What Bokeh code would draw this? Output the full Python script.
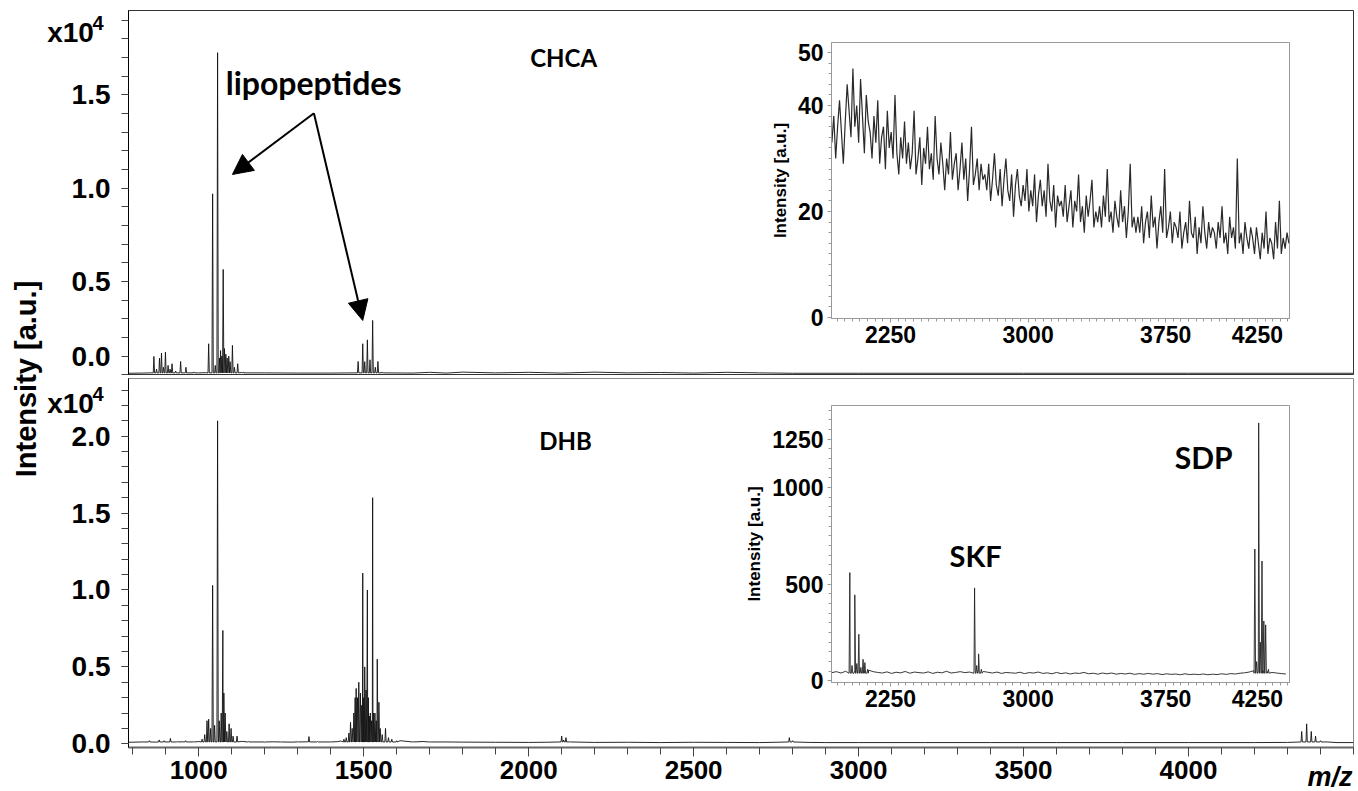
import numpy as np
from bokeh.plotting import figure
from bokeh.models import (Range1d, FixedTicker, NumeralTickFormatter, Label, Arrow,
                          NormalHead, GridBox)
from bokeh.embed import file_html
from bokeh.resources import INLINE

# ---------------- data ----------------
# main panels: m/z axis, intensity in units of 1e4 a.u.
mz_range = (787, 4500)

chca_peak_mz = [864, 872, 881, 887, 893, 899, 907, 913, 919, 930, 945, 961, 985,
                1030, 1042, 1050, 1057, 1063, 1066, 1070, 1074, 1078, 1082, 1086, 1091, 1095,
                1102, 1108, 1118, 1135,
                1483, 1497, 1503, 1511, 1519, 1527, 1535, 1543, 1555]
chca_peak_int = [0.098, 0.03, 0.089, 0.116, 0.04, 0.121, 0.05, 0.03, 0.059, 0.02, 0.071, 0.04, 0.015,
                 0.166, 0.969, 0.05, 1.725, 0.09, 0.13, 0.10, 0.564, 0.14, 0.11, 0.09, 0.10, 0.07,
                 0.157, 0.04, 0.059, 0.015,
                 0.071, 0.166, 0.07, 0.187, 0.08, 0.291, 0.04, 0.071, 0.015]
chca_base_mz = [787, 830, 850, 960, 1000, 1020, 1130, 1200, 1300, 1400,
                1470, 1560, 1650, 1700, 1750, 1800, 1900, 2000, 2100, 2200,
                2300, 2400, 2500, 2600, 2700, 2800, 3000, 3500, 4000, 4500]
chca_base_int = [0.008, 0.009, 0.010, 0.012, 0.010, 0.011, 0.012, 0.010, 0.009, 0.009,
                 0.010, 0.010, 0.009, 0.013, 0.009, 0.014, 0.010, 0.013, 0.009, 0.014,
                 0.010, 0.012, 0.009, 0.013, 0.010, 0.008, 0.008, 0.008, 0.008, 0.008]

dhb_peak_mz = [850, 880, 895, 914, 935, 960, 985,
               1010, 1018, 1025, 1030, 1036, 1042, 1048, 1057, 1062, 1068,
               1073, 1076, 1080, 1085, 1092, 1098, 1104, 1116,
               1150, 1200, 1250, 1300, 1334, 1360, 1400,
               1440, 1447, 1455, 1460, 1465, 1470, 1474, 1477, 1481, 1485,
               1490, 1494, 1497, 1500, 1503, 1507, 1511, 1514, 1517, 1520,
               1524, 1527, 1530, 1534, 1538, 1541, 1546, 1550, 1556, 1566,
               1575, 1585, 1600, 1650, 1700,
               2100, 2106, 2113, 2125, 2790, 2800,
               4343, 4358, 4372, 4385, 4400]
dhb_peak_int = [0.02, 0.025, 0.02, 0.035, 0.015, 0.02, 0.015,
                0.03, 0.06, 0.15, 0.16, 0.10, 1.03, 0.12, 2.10, 0.15, 0.20,
                0.737, 0.33, 0.20, 0.08, 0.13, 0.10, 0.05, 0.05,
                0.015, 0.01, 0.012, 0.015, 0.047, 0.015, 0.012,
                0.03, 0.04, 0.07, 0.14, 0.10, 0.20, 0.30, 0.36, 0.30, 0.40,
                0.33, 0.25, 1.11, 0.30, 0.50, 0.35, 1.00, 0.30, 0.18, 0.20,
                0.15, 1.60, 0.20, 0.20, 0.15, 0.55, 0.27, 0.10, 0.06, 0.10,
                0.04, 0.03, 0.02, 0.015, 0.012,
                0.05, 0.025, 0.04, 0.015, 0.04, 0.02,
                0.08, 0.13, 0.08, 0.05, 0.02]
dhb_base_mz = [787, 830, 870, 950, 1000, 1130, 1180, 1230, 1280, 1330,
               1380, 1420, 1430, 1610, 1680, 1750, 1800, 1900, 2000, 2050,
               2150, 2200, 2300, 2400, 2500, 2600, 2700, 2750, 2850, 2900,
               3000, 3200, 3400, 3600, 3800, 4000, 4200, 4300, 4420, 4450, 4500]
dhb_base_int = [0.010, 0.012, 0.011, 0.013, 0.015, 0.016, 0.012, 0.013, 0.011, 0.013,
                0.012, 0.014, 0.018, 0.020, 0.015, 0.012, 0.011, 0.010, 0.009, 0.010,
                0.011, 0.009, 0.010, 0.008, 0.010, 0.009, 0.008, 0.010, 0.009, 0.008,
                0.008, 0.008, 0.008, 0.008, 0.008, 0.008, 0.008, 0.009, 0.012, 0.008, 0.008]

# insets (a.u.)
inset_mz_range = (1928, 4425)
inset_x_ticks = [2250, 3000, 3750, 4250]

chca_inset_int = [
    33, 38, 30, 36, 41, 35, 29, 37, 44, 39, 34, 47, 36, 40, 33, 45, 38, 31, 42, 37,
    35, 30, 38, 33, 41, 29, 34, 36, 28, 39, 32, 35, 30, 42, 31, 27, 34, 30, 37, 29,
    33, 28, 31, 39, 27, 30, 34, 25, 32, 29, 36, 28, 31, 26, 38, 30, 27, 33, 29, 24,
    30, 27, 35, 26, 29, 31, 24, 28, 33, 26, 30, 22, 28, 36, 25, 27, 30, 24, 29, 26,
    27, 24, 29, 22, 26, 31, 25, 23, 28, 21, 26, 30, 24, 22, 27, 19, 25, 28, 23, 21,
    25, 22, 28, 20, 24, 21, 27, 18, 23, 26, 21, 24, 19, 29, 22, 20, 25, 17, 23, 21,
    22, 19, 25, 18, 21, 24, 17, 22, 20, 27, 18, 21, 16, 23, 19, 22, 26, 17, 20, 18,
    21, 17, 23, 19, 28, 18, 20, 16, 22, 19, 17, 24, 18, 21, 15, 20, 29, 17, 19, 16,
    19, 16, 21, 14, 18, 20, 15, 23, 17, 19, 13, 18, 21, 16, 28, 15, 17, 20, 14, 18,
    17, 15, 20, 13, 16, 18, 14, 22, 16, 15, 19, 12, 17, 14, 21, 16, 13, 18, 15, 17,
    16, 13, 18, 15, 21, 14, 16, 12, 19, 15, 17, 13, 30, 14, 16, 12, 18, 15, 13, 17,
    15, 12, 17, 14, 11, 16, 13, 20, 12, 15, 14, 11, 18, 13, 22, 12, 15, 13, 16, 14]

dhb_inset_base = [
    43, 48, 41, 50, 46, 55, 62, 52, 56, 48,
    44, 41, 47, 39, 45, 42, 49, 40, 46, 43,
    41, 47, 39, 45, 42, 50, 41, 44, 48, 43,
    46, 54, 60, 49, 45, 41, 46, 39, 44, 42,
    40, 45, 38, 43, 41, 46, 39, 42, 37, 44,
    38, 42, 36, 41, 39, 44, 37, 40, 35, 41,
    37, 41, 35, 39, 36, 40, 34, 38, 35, 39,
    35, 38, 33, 37, 34, 36, 32, 37, 33, 35,
    33, 36, 32, 35, 33, 37, 34, 38, 36, 40,
    42, 46, 53, 58, 54, 48, 44, 41, 38, 36]
dhb_inset_peak_mz = [2028, 2040, 2055, 2066, 2077, 2088, 2100, 2110, 2125,
                     2708, 2720, 2730, 2745,
                     4236, 4246, 4257, 4266, 4275, 4285, 4295, 4310]
dhb_inset_peak_int = [560, 80, 445, 90, 241, 70, 112, 95, 60,
                      481, 80, 140, 60,
                      682, 100, 1334, 200, 620, 310, 290, 60]

TICK_FONT = "Liberation Sans"
WORD_FONT = "Lato"


def profile(base_mz, base_int, peak_mz, peak_int, half_width, foot):
    pts = list(zip(base_mz, base_int))
    for m, h in zip(peak_mz, peak_int):
        pts += [(m - half_width, foot), (m, h), (m + half_width, foot)]
    pts.sort()
    return [p[0] for p in pts], [p[1] for p in pts]


def main_y_axis(ax, ticks, minor):
    ax.ticker = FixedTicker(ticks=ticks, minor_ticks=minor)
    ax.formatter = NumeralTickFormatter(format="0.0")
    ax.major_label_text_font = TICK_FONT
    ax.major_label_text_font_style = "bold"
    ax.major_label_text_font_size = "28px"
    ax.major_label_text_color = "black"
    ax.major_tick_in = 0
    ax.major_tick_out = 7
    ax.minor_tick_in = 0
    ax.minor_tick_out = 7
    ax.major_tick_line_color = "#444"
    ax.minor_tick_line_color = "#444"
    ax.major_label_standoff = 11
    ax.axis_line_color = "black"


# ---------------- top main panel (CHCA) ----------------
p_top = figure(width=1356, height=375, x_range=Range1d(*mz_range), y_range=Range1d(-0.004, 1.951),
               output_backend="svg", toolbar_location=None, x_axis_location=None,
               min_border_left=128, min_border_right=3, min_border_top=10, min_border_bottom=0)
p_top.grid.visible = False
p_top.outline_line_color = "#333"
main_y_axis(p_top.yaxis[0], [0.5, 1.0, 1.5], [round(0.1 * k, 1) for k in range(0, 20)])
xs, ys = profile(chca_base_mz, chca_base_int, chca_peak_mz, chca_peak_int, 2.0, 0.010)
p_top.line(xs, ys, line_color="#111", line_width=0.9)

p_top.add_layout(Label(x=2106, y=1.70, text="CHCA", text_font=WORD_FONT, text_font_style="bold",
                       text_font_size="24px", text_align="center", text_baseline="middle",
                       text_color="black"))
p_top.add_layout(Label(x=1348, y=1.566, text="lipopeptides", text_font=WORD_FONT,
                       text_font_style="bold", text_font_size="32px", text_align="center",
                       text_baseline="middle", text_color="black"))
arrow_start = (1349, 1.401)
arrow_targets = [(1102, 1.073), (1497, 0.291)]
for tx, ty in arrow_targets:
    p_top.add_layout(Arrow(end=NormalHead(size=20, fill_color="black", line_color="black"),
                           x_start=arrow_start[0], y_start=arrow_start[1], x_end=tx, y_end=ty,
                           line_color="black", line_width=2))

# ---------------- bottom main panel (DHB) ----------------
p_bot = figure(width=1356, height=415, x_range=Range1d(*mz_range), y_range=Range1d(-0.024, 2.375),
               output_backend="svg", toolbar_location=None,
               min_border_left=128, min_border_right=3, min_border_top=3, min_border_bottom=43)
p_bot.grid.visible = False
p_bot.outline_line_color = "#888"
main_y_axis(p_bot.yaxis[0], [0.0, 0.5, 1.0, 1.5, 2.0], [round(0.1 * k, 1) for k in range(0, 24)])
xa = p_bot.xaxis[0]
xa.ticker = FixedTicker(ticks=[1000, 1500, 2000, 2500, 3000, 3500, 4000],
                        minor_ticks=list(range(800, 4501, 100)))
xa.major_label_text_font = TICK_FONT
xa.major_label_text_font_style = "bold"
xa.major_label_text_font_size = "26px"
xa.major_label_text_color = "black"
xa.major_tick_in = 0
xa.major_tick_out = 9
xa.minor_tick_in = 0
xa.minor_tick_out = 7
xa.major_tick_line_color = "#444"
xa.minor_tick_line_color = "#444"
xa.major_label_standoff = 4
xa.axis_line_color = "#666"
xa.axis_line_width = 2
xs, ys = profile(dhb_base_mz, dhb_base_int, dhb_peak_mz, dhb_peak_int, 2.0, 0.012)
p_bot.line(xs, ys, line_color="#111", line_width=0.9)
p_bot.add_layout(Label(x=2112, y=1.97, text="DHB", text_font=WORD_FONT, text_font_style="bold",
                       text_font_size="24px", text_align="center", text_baseline="middle",
                       text_color="black"))


# ---------------- insets ----------------
def make_inset(height, y_range, yticks, yminor):
    p = figure(width=550, height=height, x_range=Range1d(*inset_mz_range), y_range=Range1d(*y_range),
               output_backend="svg", toolbar_location=None,
               min_border_left=88, min_border_right=3, min_border_top=4, min_border_bottom=40)
    p.grid.visible = False
    p.outline_line_color = "#999"
    p.background_fill_color = "white"
    p.border_fill_color = "white"
    x = p.xaxis[0]
    x.ticker = FixedTicker(ticks=inset_x_ticks,
                           minor_ticks=[2250 + 750.0 / 18 * k for k in range(-7, 53)])
    y = p.yaxis[0]
    y.ticker = FixedTicker(ticks=yticks, minor_ticks=yminor)
    for ax in (x, y):
        ax.major_label_text_font = TICK_FONT
        ax.major_label_text_font_style = "bold"
        ax.major_label_text_font_size = "23px"
        ax.major_label_text_color = "black"
        ax.major_tick_in = 0
        ax.minor_tick_in = 0
        ax.major_tick_out = 4
        ax.minor_tick_out = 3
        ax.axis_line_color = "#999"
        ax.major_tick_line_color = "#999"
        ax.minor_tick_line_color = "#999"
    x.major_label_standoff = 3
    y.major_label_standoff = 4
    y.axis_label = "Intensity [a.u.]"
    y.axis_label_text_font = TICK_FONT
    y.axis_label_text_font_style = "bold"
    y.axis_label_text_font_size = "17px"
    y.axis_label_text_color = "black"
    y.axis_label_standoff = 5
    return p


p_ti = make_inset(320, (-0.2, 51.9), [0, 20, 40, 50], list(range(0, 53, 2)))
ti_mz = np.linspace(1930, 4422, len(chca_inset_int))
p_ti.line(ti_mz, chca_inset_int, line_color="#2a2a2a", line_width=1.2)

p_bi = make_inset(321, (-8, 1424), [0, 500, 1000, 1250], list(range(0, 1425, 50)))
bi_base_mz = list(range(1930, 4406, 25))
xs, ys = profile(bi_base_mz, dhb_inset_base, dhb_inset_peak_mz, dhb_inset_peak_int, 4.0, 40)
p_bi.line(xs, ys, line_color="#222", line_width=0.9)
p_bi.add_layout(Label(x=2714, y=646, text="SKF", text_font=WORD_FONT, text_font_style="bold",
                      text_font_size="29px", text_align="center", text_baseline="middle",
                      text_color="black"))
p_bi.add_layout(Label(x=3957, y=1158, text="SDP", text_font=WORD_FONT, text_font_style="bold",
                      text_font_size="30px", text_align="center", text_baseline="middle",
                      text_color="black"))

# ---------------- overlay for shared texts (page pixel coordinates) ----------------
p_ov = figure(width=1358, height=791, x_range=Range1d(0, 1358), y_range=Range1d(791, 0),
              output_backend="svg", toolbar_location=None, x_axis_location=None,
              y_axis_location=None, min_border=0, background_fill_color=None,
              border_fill_color=None, outline_line_color=None)
p_ov.grid.visible = False


def ov_label(x, y, text, size, align="left", style="bold", angle=0.0):
    p_ov.add_layout(Label(x=x, y=y, text=text, text_font=TICK_FONT, text_font_style=style,
                          text_font_size=size, text_align=align, text_baseline="middle",
                          angle=angle, text_color="black"))


ov_label(25, 378.5, "Intensity [a.u.]", "29px", align="center", angle=np.pi / 2)
for yc in (31.7, 402.5):
    ov_label(46.7, yc, "x10", "28px")
    ov_label(92, yc - 9, "4", "20px")
ov_label(110, 355.7, "0.0", "28px", align="right")
ov_label(1352, 776, "m/z", "27px", align="right", style="bold italic")

# grid lines are kept distinct for every child so that no plot frames get aligned
grid = GridBox(children=[(p_top, 1, 1, 3, 3), (p_bot, 5, 1, 3, 3),
                         (p_ti, 2, 2, 1, 1), (p_bi, 6, 2, 1, 1), (p_ov, 0, 0, 9, 5)],
               rows=["0px", "38px", "330px", "7px", "0px", "26px", "379px", "10px", "1px"],
               cols=["0px", "742px", "614px", "0px", "2px"])

open("out.html", "w").write(file_html(grid, INLINE))
